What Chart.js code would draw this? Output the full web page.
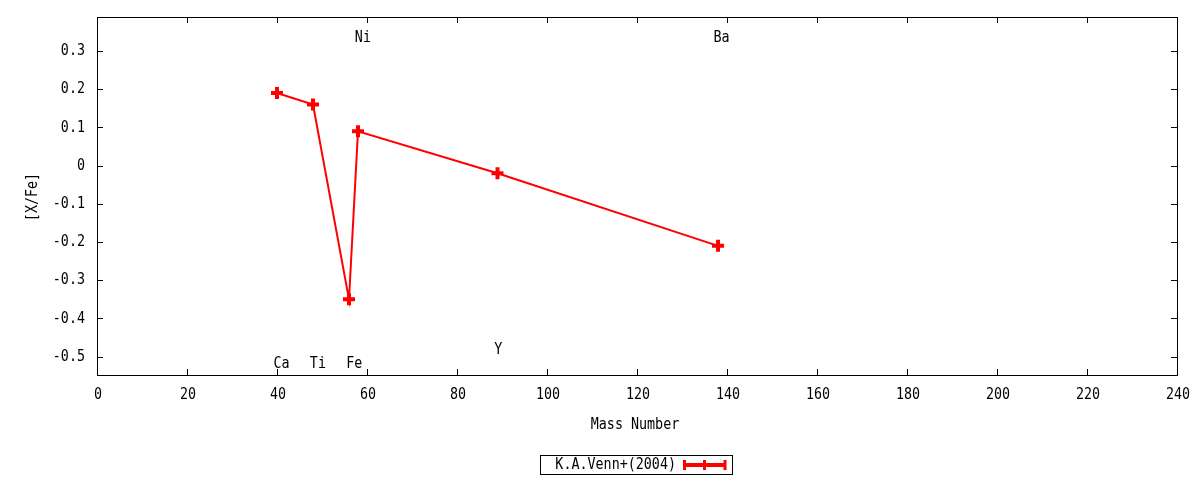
<!DOCTYPE html>
<html>
<head>
<meta charset="utf-8">
<script src="https://cdn.jsdelivr.net/npm/chart.js@4"></script>
<style>
  html, body { margin: 0; padding: 0; background: #fff; }
  #wrap { width: 1200px; height: 480px; }
</style>
</head>
<body>
<div id="wrap"><canvas id="c" width="1200" height="480"></canvas></div>
<script>
// ---- data ----
const massNumbers = [40, 48, 56, 58, 89, 138];
const xFeValues   = [0.19, 0.16, -0.35, 0.09, -0.02, -0.21];
const seriesName  = 'K.A.Venn+(2004)';
const xTickValues = [0, 20, 40, 60, 80, 100, 120, 140, 160, 180, 200, 220, 240];
const yTickValues = [-0.5, -0.4, -0.3, -0.2, -0.1, 0, 0.1, 0.2, 0.3];
const xTickLabels = ['0', '20', '40', '60', '80', '100', '120', '140', '160', '180', '200', '220', '240'];
const yTickLabels = ['-0.5', '-0.4', '-0.3', '-0.2', '-0.1', '0', '0.1', '0.2', '0.3'];
const elementNames = ['Ca', 'Ti', 'Fe', 'Ni', 'Y', 'Ba'];
const elementLabelX = [39.2, 47.3, 55.4, 57.3, 88.3, 137.0];
const elementLabelY = [-0.518, -0.518, -0.518, 0.335, -0.482, 0.335];
const xTitle = 'Mass Number';
const yTitle = '[X/Fe]';

const FONT = "16px 'DejaVu Sans Mono', monospace";
const SX = 0.835;   // horizontal condensing of the monospace face
const RED = '#ff0000';

function drawText(ctx, str, x, y, align, rot) {
  ctx.save();
  ctx.translate(x, y);
  if (rot) ctx.rotate(rot);
  ctx.scale(SX, 1);
  ctx.font = FONT;
  ctx.fillStyle = '#000';
  ctx.textAlign = align;
  ctx.textBaseline = 'middle';
  ctx.fillText(str, 0, 0);
  ctx.restore();
}

const framePlugin = {
  id: 'frame',
  afterDatasetsDraw(chart) {
    const ctx = chart.ctx;
    const a = chart.chartArea;
    const xs = chart.scales.x, ys = chart.scales.y;
    ctx.save();
    ctx.strokeStyle = '#000';
    ctx.lineWidth = 1;
    ctx.strokeRect(Math.round(a.left) + 0.5, Math.round(a.top) + 0.5,
                   Math.round(a.right - a.left), Math.round(a.bottom - a.top));
    const tl = 6;
    ctx.beginPath();
    xTickValues.forEach(v => {
      const px = Math.round(xs.getPixelForValue(v)) + 0.5;
      ctx.moveTo(px, a.bottom); ctx.lineTo(px, a.bottom - tl);
      ctx.moveTo(px, a.top); ctx.lineTo(px, a.top + tl);
    });
    yTickValues.forEach(v => {
      const py = Math.round(ys.getPixelForValue(v)) + 0.5;
      ctx.moveTo(a.left, py); ctx.lineTo(a.left + tl, py);
      ctx.moveTo(a.right, py); ctx.lineTo(a.right - tl, py);
    });
    ctx.stroke();
    ctx.restore();

    // tick labels
    xTickValues.forEach((v, i) => {
      drawText(ctx, xTickLabels[i], xs.getPixelForValue(v) + 1, a.bottom + 20, 'center');
    });
    yTickValues.forEach((v, i) => {
      drawText(ctx, yTickLabels[i], a.left - 12, ys.getPixelForValue(v), 'right');
    });
    // axis titles
    drawText(ctx, xTitle, (a.left + a.right) / 2 - 2, a.bottom + 50, 'center');
    drawText(ctx, yTitle, 33, (a.top + a.bottom) / 2 + 1, 'center', -Math.PI / 2);

    // element labels
    elementNames.forEach((n, i) => {
      drawText(ctx, n, xs.getPixelForValue(elementLabelX[i]), ys.getPixelForValue(elementLabelY[i]), 'left');
    });

    // legend
    ctx.save();
    const bx = 540, by = 455, bw = 192, bh = 19;
    ctx.strokeStyle = '#000';
    ctx.lineWidth = 1;
    ctx.strokeRect(bx + 0.5, by + 0.5, bw, bh);
    ctx.restore();
    drawText(ctx, seriesName, 676, by + bh / 2 + 0.5, 'right');
    ctx.save();
    const ly = by + bh / 2 + 0.5;
    ctx.strokeStyle = RED;
    ctx.lineWidth = 4;
    ctx.beginPath();
    ctx.moveTo(684, ly); ctx.lineTo(725, ly);
    ctx.stroke();
    ctx.lineWidth = 3;
    ctx.beginPath();
    ctx.moveTo(684.5, ly - 5); ctx.lineTo(684.5, ly + 5);
    ctx.moveTo(725, ly - 5); ctx.lineTo(725, ly + 5);
    ctx.moveTo(704.5, ly - 5); ctx.lineTo(704.5, ly + 5);
    ctx.stroke();
    ctx.restore();
  }
};

new Chart(document.getElementById('c'), {
  type: 'line',
  data: {
    datasets: [{
      label: seriesName,
      data: massNumbers.map((m, i) => ({ x: m, y: xFeValues[i] })),
      borderColor: RED,
      backgroundColor: RED,
      borderWidth: 2,
      pointStyle: 'cross',
      pointRadius: 6,
      pointBorderWidth: 4,
      pointHoverRadius: 6,
      tension: 0,
      fill: false
    }]
  },
  options: {
    responsive: false,
    animation: false,
    devicePixelRatio: 1,
    layout: { padding: { left: 0, right: 23, top: 17, bottom: 0 } },
    plugins: { legend: { display: false }, tooltip: { enabled: false } },
    scales: {
      x: {
        type: 'linear',
        min: 0, max: 240,
        afterBuildTicks: s => { s.ticks = xTickValues.map(v => ({ value: v })); },
        afterFit: s => { s.height = 105; s.paddingLeft = 0; s.paddingRight = 0; },
        grid: { display: false, drawTicks: false },
        border: { display: false },
        ticks: { display: false }
      },
      y: {
        type: 'linear',
        min: -0.548, max: 0.389,
        afterBuildTicks: s => { s.ticks = yTickValues.map(v => ({ value: v })); },
        afterFit: s => { s.width = 97; s.paddingTop = 0; s.paddingBottom = 0; },
        grid: { display: false, drawTicks: false },
        border: { display: false },
        ticks: { display: false }
      }
    }
  },
  plugins: [framePlugin]
});
</script>
</body>
</html>
